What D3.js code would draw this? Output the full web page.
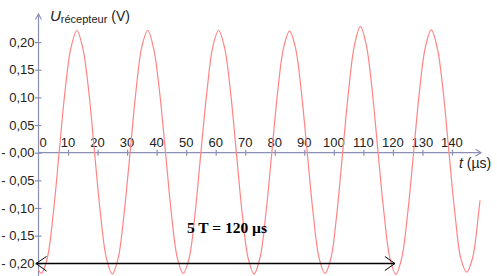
<!DOCTYPE html>
<html>
<head>
<meta charset="utf-8">
<script src="https://cdn.jsdelivr.net/npm/d3@7"></script>
<style>
  html, body { margin: 0; padding: 0; background: #fff; }
  svg { display: block; }
</style>
</head>
<body>
<svg id="chart" width="497" height="276"></svg>
<script>
// ---- data ----
const times = [0, 1, 3, 5, 7, 9, 11, 13, 15, 17, 19, 21, 23,
  25, 27, 29, 31, 33, 35, 37, 39, 41, 43, 45, 47,
  49, 51, 53, 55, 57, 59, 61, 63, 65, 67, 69, 71,
  73, 75, 77, 79, 81, 83, 85, 87, 89, 91, 93, 95,
  97, 99, 101, 103, 105, 107, 109, 111, 113, 115, 117, 119,
  121, 123, 125, 127, 129, 131, 133, 135, 137, 139, 141, 143,
  145, 147, 149, 149.5];
const voltages = [-0.212, -0.218, -0.190, -0.110, 0.001, 0.112, 0.190, 0.221, 0.189, 0.112, -0.001, -0.111, -0.191,
  -0.219, -0.190, -0.109, 0.000, 0.111, 0.192, 0.221, 0.188, 0.110, 0.001, -0.110, -0.190,
  -0.218, -0.191, -0.111, 0.001, 0.109, 0.191, 0.221, 0.190, 0.111, 0.000, -0.111, -0.191,
  -0.219, -0.190, -0.110, 0.000, 0.111, 0.190, 0.220, 0.190, 0.110, 0.000, -0.110, -0.190,
  -0.218, -0.191, -0.111, 0.001, 0.112, 0.195, 0.228, 0.194, 0.112, -0.001, -0.110, -0.191,
  -0.220, -0.190, -0.110, 0.000, 0.111, 0.191, 0.222, 0.190, 0.112, 0.000, -0.110, -0.191,
  -0.216, -0.190, -0.110, -0.086];
const xTicks = [0, 10, 20, 30, 40, 50, 60, 70, 80, 90, 100, 110, 120, 130, 140];
const yTicks = [-0.20, -0.15, -0.10, -0.05, 0.00, 0.05, 0.10, 0.15, 0.20];
const yTitleMain = "U", yTitleSub = "récepteur", yTitleUnit = "(V)";
const xTitleMain = "t", xTitleUnit = "(µs)";
const annotationText = "5 T = 120 µs";
const annotationStart = 0, annotationEnd = 120;

// ---- layout ----
const svg = d3.select("#chart");
const x = d3.scaleLinear().domain([0, 150]).range([38.5, 481.5]);
const y = d3.scaleLinear().domain([-0.2, 0.2]).range([263.3, 42.1]);
const axisColor = "#8b8fb6";
const textColor = "#222";
const fmt = v => {
  const s = Math.abs(v).toFixed(2).replace(".", ",");
  return v <= 0.0001 ? "- " + s : s;
};

// x axis (at y=0)
const gx = svg.append("g").attr("transform", `translate(0,${y(0)})`)
  .call(d3.axisBottom(x).tickValues(xTicks.filter(d => d > 0)).tickSize(3).tickFormat(""));
gx.select(".domain").remove();
gx.selectAll(".tick line").attr("y1", -3).attr("y2", 3).attr("stroke", axisColor).attr("stroke-width", 1.2);
svg.append("line").attr("x1", x(0)).attr("x2", 481).attr("y1", y(0)).attr("y2", y(0))
  .attr("stroke", axisColor).attr("stroke-width", 1.2);
svg.append("path").attr("d", `M475.5,${y(0) - 3.5}L481,${y(0)}L475.5,${y(0) + 3.5}`)
  .attr("fill", "none").attr("stroke", axisColor).attr("stroke-width", 1.1);
svg.append("g").selectAll("text").data(xTicks).join("text")
  .attr("x", d => d === 0 ? x(d) + 4.5 : x(d))
  .attr("y", y(0) - 6)
  .attr("text-anchor", "middle")
  .attr("font-family", "Liberation Sans, Arial, sans-serif")
  .attr("font-size", 13)
  .attr("fill", textColor)
  .text(d => d);

// y axis
const gy = svg.append("g").attr("transform", `translate(${x(0)},0)`)
  .call(d3.axisLeft(y).tickValues(yTicks).tickSize(3).tickFormat(""));
gy.select(".domain").remove();
gy.selectAll(".tick line").attr("x1", -3.5).attr("x2", 3).attr("stroke", axisColor).attr("stroke-width", 1.2);
svg.append("line").attr("x1", x(0)).attr("x2", x(0)).attr("y1", 14).attr("y2", 276)
  .attr("stroke", axisColor).attr("stroke-width", 1.2);
svg.append("path").attr("d", `M${x(0) - 3},19.5L${x(0)},14L${x(0) + 3},19.5`)
  .attr("fill", "none").attr("stroke", axisColor).attr("stroke-width", 1.1);
svg.append("g").selectAll("text").data(yTicks).join("text")
  .attr("x", 34.5)
  .attr("y", d => y(d) + 4.7)
  .attr("text-anchor", "end")
  .attr("font-family", "Liberation Sans, Arial, sans-serif")
  .attr("font-size", 13)
  .attr("fill", textColor)
  .text(d => fmt(d));

// titles
const yt = svg.append("text").attr("x", 50).attr("y", 21)
  .attr("font-family", "Liberation Sans, Arial, sans-serif").attr("fill", textColor);
yt.append("tspan").attr("font-style", "italic").attr("font-size", 15).text(yTitleMain);
yt.append("tspan").attr("font-size", 11).attr("dy", 2).text(yTitleSub);
yt.append("tspan").attr("font-size", 14).attr("dy", -2).text(" " + yTitleUnit);

const xt = svg.append("text").attr("x", 459).attr("y", 168)
  .attr("font-family", "Liberation Sans, Arial, sans-serif").attr("font-size", 14).attr("fill", textColor);
xt.append("tspan").attr("font-style", "italic").text(xTitleMain);
xt.append("tspan").text(" " + xTitleUnit);

// curve
const data = times.map((t, i) => [t, voltages[i]]);
svg.append("path").datum(data)
  .attr("fill", "none")
  .attr("stroke", "#ff8484")
  .attr("stroke-width", 1.2)
  .attr("d", d3.line().x(d => x(d[0])).y(d => y(d[1])).curve(d3.curveCatmullRom.alpha(0.5)));

// annotation: double arrow + text
const ay = y(-0.2) + 0.2;
const ax1 = x(annotationStart) - 2.5, ax2 = x(annotationEnd) + 2;
svg.append("line").attr("x1", ax1).attr("x2", ax2).attr("y1", ay).attr("y2", ay)
  .attr("stroke", "#000").attr("stroke-width", 1.3);
svg.append("path").attr("d", `M${ax1 + 10.5},${ay - 7}L${ax1},${ay}L${ax1 + 10.5},${ay + 7.5}`)
  .attr("fill", "none").attr("stroke", "#000").attr("stroke-width", 1);
svg.append("path").attr("d", `M${ax2 - 10},${ay - 7}L${ax2},${ay}L${ax2 - 10},${ay + 7}`)
  .attr("fill", "none").attr("stroke", "#000").attr("stroke-width", 1);
svg.append("text").attr("x", 187).attr("y", 233)
  .attr("font-family", "Liberation Serif, Times New Roman, serif")
  .attr("font-weight", "bold").attr("font-size", 15.5).attr("fill", "#000")
  .text(annotationText);
</script>
</body>
</html>
